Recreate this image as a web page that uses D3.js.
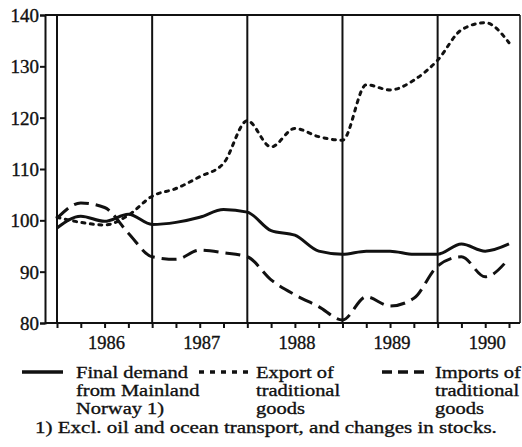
<!DOCTYPE html>
<html>
<head>
<meta charset="utf-8">
<script src="https://cdn.jsdelivr.net/npm/d3@7"></script>
<style>
body { margin: 0; background: #fff; }
text { font-family: "Liberation Serif", "DejaVu Serif", serif; fill: #111; stroke: #111; stroke-width: 0.35; }
</style>
</head>
<body>
<svg id="chart" width="522" height="447"></svg>
<script>
// quarterly indices, 1986 Q1 .. 1990 Q4
const years = ["1986", "1987", "1988", "1989", "1990"]
const finalDemand = [98.5, 100.8, 99.8, 101.2, 99.2, 99.6, 100.6, 102.1, 101.6, 98.0,
    97.1, 94.0, 93.4, 94.0, 94.0, 93.4, 93.4, 95.4, 94.0, 95.4]
const exportsTrad = [100.6, 99.6, 99.1, 101.0, 104.7, 106.2, 108.5, 111.1, 119.4, 114.3,
    117.9, 116.3, 115.6, 126.4, 125.4, 127.3, 131.2, 137.1, 138.5, 134.6]
const importsTrad = [100.4, 103.4, 102.5, 97.5, 92.9, 92.4, 94.2, 93.7, 92.9, 88.4,
    85.5, 83.2, 80.6, 85.1, 83.3, 84.8, 91.1, 92.9, 89.0, 92.6]
const yTicks = [80, 90, 100, 110, 120, 130, 140]

const svg = d3.select("#chart")
const plotLeft = 45, plotRight = 520, plotTop = 15, plotBottom = 323

const x = d3.scaleLinear().domain([0, 19]).range([57, 509])
const y = d3.scaleLinear().domain([80, 140]).range([plotBottom, plotTop])

// the printed face is wider than Liberation Serif, so stretch the text a bit
function widen(sel, k) {
    sel.each(function() {
        var w = this.getComputedTextLength()
        d3.select(this).attr("textLength", w * k).attr("lengthAdjust", "spacingAndGlyphs")
    })
}

// frame
svg.append("line").attr("x1", plotLeft).attr("x2", plotRight).attr("y1", plotTop).attr("y2", plotTop)
    .attr("stroke", "#111").attr("stroke-width", 2)
svg.append("line").attr("x1", plotRight).attr("x2", plotRight).attr("y1", plotTop).attr("y2", plotBottom)
    .attr("stroke", "#111").attr("stroke-width", 1.5)

// year separators
svg.selectAll("line.sep")
    .data(d3.range(0, 20, 4))
    .enter().append("line")
    .attr("x1", d => x(d)).attr("x2", d => x(d))
    .attr("y1", plotTop).attr("y2", plotBottom)
    .attr("stroke", "#111").attr("stroke-width", 2)

// y axis
const yAxis = svg.append("g")
    .attr("transform", "translate(" + plotLeft + ",0)")
    .call(d3.axisLeft(y).tickValues(yTicks).tickSize(5).tickPadding(1))
yAxis.select(".domain").attr("stroke-width", 2).attr("stroke", "#111")
yAxis.selectAll(".tick line").attr("stroke-width", 2).attr("stroke", "#111")
yAxis.selectAll("text").attr("font-size", 19).attr("font-family", "Liberation Serif")
    .attr("fill", "#111").attr("dy", "0.35em")

// x axis, one tick per quarter
const xAxis = svg.append("g")
    .attr("transform", "translate(0," + plotBottom + ")")
    .call(d3.axisBottom(x).tickValues(d3.range(0, 20)).tickSize(5).tickFormat(""))
xAxis.select(".domain").attr("d", "M" + plotLeft + ",0H" + plotRight).attr("stroke-width", 2).attr("stroke", "#111")
xAxis.selectAll(".tick line").attr("stroke-width", 2).attr("stroke", "#111")

svg.selectAll("text.year")
    .data(years)
    .enter().append("text")
    .attr("x", (d, i) => x(i * 4 + 2) + 2)
    .attr("y", plotBottom + 26)
    .attr("text-anchor", "middle")
    .attr("font-size", 18.5)
    .text(d => d)

// series
const line = d3.line()
    .x((d, i) => x(i))
    .y(d => y(d))
    .curve(d3.curveMonotoneX)

const series = [
    { values: finalDemand, dash: null, cap: "butt" },
    { values: exportsTrad, dash: "3,5.5", cap: "round" },
    { values: importsTrad, dash: "15,7", cap: "butt" }
]
svg.selectAll("path.series")
    .data(series)
    .enter().append("path")
    .attr("d", d => line(d.values))
    .attr("fill", "none")
    .attr("stroke", "#111")
    .attr("stroke-width", 3)
    .attr("stroke-linecap", d => d.cap)
    .attr("stroke-dasharray", d => d.dash)

// legend
const legend = [
    { x1: 22, x2: 63, tx: 76, dash: null, lines: ["Final demand", "from Mainland", "Norway 1)"] },
    { x1: 199, x2: 253, tx: 256, dash: "5,6", lines: ["Export of", "traditional", "goods"] },
    { x1: 382, x2: 424, tx: 435, dash: "10,6", lines: ["Imports of", "traditional", "goods"] }
]
legend.forEach(function(l) {
    svg.append("line")
        .attr("x1", l.x1).attr("x2", l.x2).attr("y1", 372).attr("y2", 372)
        .attr("stroke", "#111").attr("stroke-width", 3.5)
        .attr("stroke-dasharray", l.dash)
    l.lines.forEach(function(t, j) {
        svg.append("text")
            .attr("class", "leg")
            .attr("x", l.tx).attr("y", 378 + j * 18)
            .attr("font-size", 17.5)
            .text(t)
    })
})
widen(svg.selectAll("text.leg"), 1.17)

svg.append("text")
    .attr("class", "note")
    .attr("x", 35).attr("y", 433)
    .attr("font-size", 17.5)
    .text("1) Excl. oil and ocean transport, and changes in stocks.")
widen(svg.selectAll("text.note"), 1.2)
</script>
</body>
</html>
